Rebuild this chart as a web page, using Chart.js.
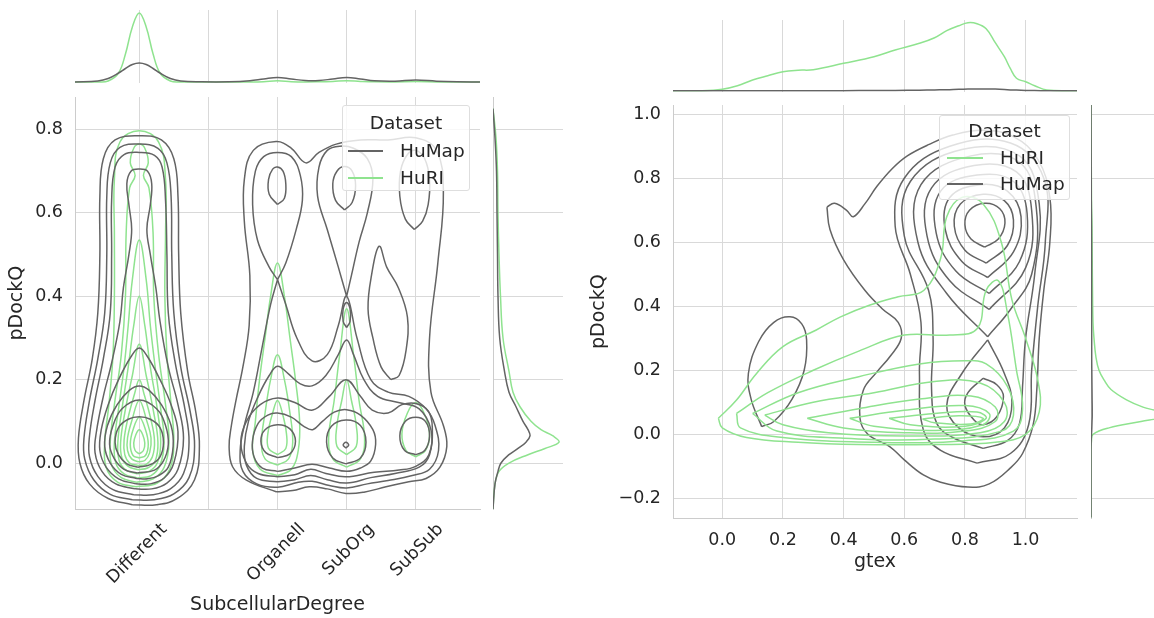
<!DOCTYPE html>
<html lang="en">
<head>
<meta charset="UTF-8">
<title>pDockQ joint KDE</title>
<script src="https://cdn.jsdelivr.net/npm/chart.js"></script>
<style>
    body { margin: 0; background: #fff; }
    #fig { position: relative; width: 1154px; height: 618px; overflow: hidden; font-family: 'DejaVu Sans', sans-serif; color: #262626; }
    #fig canvas { position: absolute; }
    .legend { position: absolute; background: rgba(255,255,255,0.8); border: 1px solid #dedede; border-radius: 3px; box-sizing: border-box; }
    .legend div { position: absolute; height: 22px; line-height: 22px; font-size: 18.5px; white-space: nowrap; }
    .legend .ltitle { left: 0; right: 0; text-align: center; }
    .legend span { position: absolute; display: block; height: 2px; }
</style>
</head>
<body>
<div id="fig">
    <canvas id="leftTop" width="487" height="90" style="left:0;top:0"></canvas>
    <canvas id="leftMain" width="487" height="528" style="left:0;top:90px"></canvas>
    <canvas id="leftSide" width="80" height="528" style="left:487px;top:90px"></canvas>
    <canvas id="rightTop" width="504" height="95" style="left:580px;top:0"></canvas>
    <canvas id="rightMain" width="504" height="523" style="left:580px;top:95px"></canvas>
    <canvas id="rightSide" width="70" height="523" style="left:1084px;top:95px"></canvas>

    <div class="legend" style="left:342px;top:105px;width:128px;height:86px">
        <div class="ltitle" style="top:6px">Dataset</div>
        <span style="left:5px;width:35px;top:44px;background:#646464"></span>
        <div style="left:57px;top:34px">HuMap</div>
        <span style="left:5px;width:35px;top:71px;background:#8fe38f"></span>
        <div style="left:57px;top:61px">HuRI</div>
    </div>
    <div class="legend" style="left:939px;top:115px;width:131px;height:85px">
        <div class="ltitle" style="top:4px">Dataset</div>
        <span style="left:7px;width:36px;top:41px;background:#8fe38f"></span>
        <div style="left:60px;top:31px">HuRI</div>
        <span style="left:7px;width:36px;top:67px;background:#646464"></span>
        <div style="left:60px;top:57px">HuMap</div>
    </div>
</div>
<script>
    // ---- axes ----
    const catPositions = [0, 1, 2, 3, 4];
    const catLabels = ['Different', '', 'Organell', 'SubOrg', 'SubSub'];
    const leftYTicks = [0, 0.2, 0.4, 0.6, 0.8];
    const gtexTicks = [0, 0.2, 0.4, 0.6, 0.8, 1.0];
    const rightYTicks = [-0.2, 0, 0.2, 0.4, 0.6, 0.8, 1.0];

    // ---- left panel: KDE contour lines (x = category index, y = pDockQ) ----
    const differentHuMap = [
        [[-0.10,-0.100],[-0.45,-0.085],[-0.72,-0.05],[-0.86,0.0],[-0.88,0.06],[-0.80,0.15],[-0.68,0.25],[-0.60,0.36],[-0.57,0.5],[-0.57,0.64],[-0.52,0.73],[-0.35,0.775],[0.0,0.785],[0.32,0.775],[0.50,0.73],[0.56,0.64],[0.57,0.5],[0.60,0.36],[0.70,0.22],[0.82,0.12],[0.87,0.04],[0.80,-0.04],[0.55,-0.085],[0.25,-0.1],[-0.10,-0.100]],
        [[-0.10,-0.088],[-0.42,-0.075],[-0.66,-0.04],[-0.79,0.01],[-0.80,0.06],[-0.72,0.15],[-0.60,0.25],[-0.50,0.36],[-0.47,0.5],[-0.47,0.64],[-0.42,0.72],[-0.28,0.757],[0.0,0.765],[0.27,0.755],[0.40,0.72],[0.46,0.64],[0.47,0.5],[0.50,0.36],[0.60,0.23],[0.74,0.12],[0.80,0.04],[0.72,-0.035],[0.50,-0.074],[0.22,-0.088],[-0.10,-0.088]],
        [[-0.08,-0.076],[-0.38,-0.064],[-0.60,-0.032],[-0.72,0.015],[-0.72,0.065],[-0.64,0.15],[-0.52,0.25],[-0.42,0.36],[-0.40,0.5],[-0.40,0.63],[-0.35,0.71],[-0.22,0.74],[0.0,0.745],[0.22,0.738],[0.33,0.71],[0.38,0.63],[0.40,0.5],[0.42,0.36],[0.52,0.24],[0.66,0.13],[0.72,0.05],[0.64,-0.025],[0.45,-0.062],[0.2,-0.076],[-0.08,-0.076]],
        [[-0.06,-0.062],[-0.34,-0.05],[-0.54,-0.02],[-0.64,0.025],[-0.62,0.075],[-0.52,0.16],[-0.40,0.24],[-0.28,0.34],[-0.23,0.42],[-0.15,0.5],[-0.11,0.56],[-0.15,0.62],[-0.18,0.67],[-0.12,0.70],[0.0,0.705],[0.12,0.70],[0.18,0.67],[0.16,0.62],[0.11,0.56],[0.16,0.5],[0.24,0.42],[0.30,0.34],[0.42,0.23],[0.56,0.14],[0.64,0.06],[0.56,-0.015],[0.40,-0.048],[0.18,-0.062],[-0.06,-0.062]],
        [[-0.05,-0.05],[-0.30,-0.038],[-0.48,-0.01],[-0.57,0.03],[-0.55,0.08],[-0.45,0.14],[-0.30,0.2],[-0.12,0.255],[0.0,0.276],[0.12,0.255],[0.30,0.2],[0.46,0.14],[0.56,0.075],[0.50,0.0],[0.36,-0.036],[0.16,-0.05],[-0.05,-0.05]],
        [[-0.04,-0.037],[-0.26,-0.027],[-0.42,0.0],[-0.50,0.04],[-0.46,0.09],[-0.32,0.14],[-0.14,0.175],[0.0,0.185],[0.14,0.175],[0.32,0.14],[0.46,0.09],[0.49,0.04],[0.42,-0.01],[0.28,-0.03],[0.12,-0.038],[-0.04,-0.037]],
        [[-0.03,-0.024],[-0.22,-0.015],[-0.36,0.01],[-0.43,0.045],[-0.38,0.09],[-0.25,0.13],[0.0,0.151],[0.25,0.13],[0.38,0.09],[0.42,0.045],[0.35,0.005],[0.22,-0.017],[-0.03,-0.024]],
        [[-0.02,-0.01],[-0.18,-0.002],[-0.30,0.02],[-0.35,0.05],[-0.30,0.085],[-0.16,0.105],[0.0,0.111],[0.16,0.105],[0.30,0.085],[0.35,0.05],[0.30,0.015],[0.16,-0.004],[-0.02,-0.01]]
    ];
    const differentHuRI = [
        [[-0.05,-0.057],[-0.32,-0.045],[-0.48,-0.01],[-0.50,0.05],[-0.44,0.14],[-0.38,0.26],[-0.36,0.4],[-0.36,0.55],[-0.36,0.68],[-0.28,0.77],[0.0,0.797],[0.28,0.77],[0.38,0.68],[0.38,0.55],[0.37,0.4],[0.40,0.26],[0.46,0.14],[0.50,0.05],[0.44,-0.015],[0.26,-0.048],[-0.05,-0.057]],
        [[-0.04,-0.046],[-0.26,-0.035],[-0.40,-0.005],[-0.42,0.05],[-0.36,0.14],[-0.26,0.26],[-0.20,0.4],[-0.19,0.55],[-0.14,0.66],[-0.06,0.69],[-0.13,0.72],[-0.08,0.755],[0.0,0.765],[0.08,0.755],[0.13,0.72],[0.06,0.69],[0.14,0.66],[0.20,0.55],[0.21,0.4],[0.28,0.26],[0.38,0.14],[0.43,0.05],[0.36,-0.01],[0.2,-0.038],[-0.04,-0.046]],
        [[-0.03,-0.036],[-0.22,-0.026],[-0.34,0.0],[-0.36,0.05],[-0.30,0.13],[-0.22,0.23],[-0.16,0.33],[-0.10,0.44],[0.0,0.535],[0.10,0.44],[0.16,0.33],[0.23,0.23],[0.31,0.13],[0.36,0.05],[0.30,-0.005],[0.17,-0.03],[-0.03,-0.036]],
        [[-0.03,-0.026],[-0.19,-0.017],[-0.29,0.005],[-0.31,0.05],[-0.25,0.13],[-0.16,0.23],[-0.08,0.33],[0.0,0.40],[0.08,0.33],[0.16,0.23],[0.26,0.13],[0.31,0.05],[0.26,0.0],[0.14,-0.02],[-0.03,-0.026]],
        [[-0.02,-0.016],[-0.16,-0.008],[-0.25,0.012],[-0.27,0.05],[-0.21,0.12],[-0.10,0.21],[0.0,0.285],[0.10,0.21],[0.21,0.12],[0.27,0.05],[0.23,0.005],[0.12,-0.012],[-0.02,-0.016]],
        [[-0.02,-0.006],[-0.14,0.0],[-0.21,0.02],[-0.22,0.055],[-0.16,0.11],[-0.07,0.165],[0.0,0.2],[0.07,0.165],[0.16,0.11],[0.22,0.055],[0.19,0.015],[0.1,-0.003],[-0.02,-0.006]],
        [[-0.01,0.003],[-0.11,0.01],[-0.17,0.03],[-0.17,0.06],[-0.11,0.1],[0.0,0.15],[0.11,0.1],[0.17,0.06],[0.15,0.025],[0.08,0.006],[-0.01,0.003]],
        [[0.0,0.012],[-0.09,0.018],[-0.13,0.045],[-0.09,0.08],[0.0,0.11],[0.09,0.08],[0.13,0.045],[0.09,0.018],[0.0,0.012]],
        [[0.0,0.022],[-0.06,0.03],[-0.08,0.048],[-0.05,0.068],[0.0,0.08],[0.05,0.068],[0.08,0.048],[0.06,0.03],[0.0,0.022]]
    ];
    const compartmentHuMap = [
        [[1.98,-0.069],[1.55,-0.041],[1.35,-0.009],[1.30,0.039],[1.33,0.087],[1.40,0.151],[1.50,0.231],[1.59,0.33],[1.60,0.45],[1.52,0.58],[1.52,0.68],[1.65,0.75],[1.98,0.771],[2.20,0.755],[2.41,0.72],[2.60,0.745],[2.85,0.765],[3.2,0.775],[3.6,0.775],[4.0,0.78],[4.3,0.75],[4.40,0.65],[4.32,0.48],[4.20,0.3],[4.22,0.17],[4.40,0.09],[4.45,0.04],[4.35,-0.01],[4.15,-0.037],[3.9,-0.045],[3.57,-0.057],[3.25,-0.07],[2.99,-0.073],[2.72,-0.062],[2.46,-0.057],[2.22,-0.066],[1.98,-0.069]],
        [[2.0,0.44],[1.88,0.47],[1.71,0.535],[1.64,0.62],[1.68,0.70],[1.80,0.735],[2.0,0.745],[2.2,0.735],[2.33,0.69],[2.36,0.63],[2.27,0.56],[2.12,0.48],[2.0,0.44]],
        [[2.0,0.62],[1.88,0.645],[1.87,0.68],[1.93,0.705],[2.0,0.71],[2.08,0.7],[2.12,0.67],[2.1,0.635],[2.0,0.62]],
        [[3.0,0.40],[2.88,0.47],[2.72,0.56],[2.58,0.64],[2.60,0.71],[2.72,0.75],[2.9,0.76],[3.1,0.755],[3.3,0.73],[3.38,0.68],[3.3,0.6],[3.18,0.53],[3.07,0.45],[3.0,0.40]],
        [[2.97,0.607],[2.84,0.63],[2.8,0.67],[2.86,0.70],[2.97,0.711],[3.08,0.70],[3.13,0.665],[3.08,0.625],[2.97,0.607]],
        [[3.0,0.325],[2.95,0.34],[2.95,0.37],[3.0,0.385],[3.05,0.37],[3.05,0.34],[3.0,0.325]],
        [[3.98,0.56],[3.85,0.585],[3.77,0.64],[3.78,0.70],[3.88,0.74],[4.0,0.75],[4.13,0.73],[4.2,0.68],[4.18,0.62],[4.1,0.58],[3.98,0.56]],
        [[3.64,0.2],[3.5,0.23],[3.38,0.3],[3.31,0.37],[3.36,0.45],[3.47,0.52],[3.58,0.47],[3.75,0.42],[3.88,0.35],[3.86,0.27],[3.76,0.21],[3.64,0.2]],
        [[2.0,0.44],[1.9,0.38],[1.78,0.28],[1.65,0.17],[1.52,0.09],[1.46,0.03],[1.5,-0.02],[1.7,-0.05],[2.0,-0.058],[2.3,-0.046],[2.5,-0.044],[2.75,-0.054],[3.0,-0.06],[3.3,-0.05],[3.6,-0.042],[3.95,-0.03],[4.2,-0.015],[4.33,0.03],[4.28,0.09],[4.15,0.13],[3.9,0.16],[3.6,0.17],[3.35,0.2],[3.15,0.3],[3.0,0.40],[2.88,0.33],[2.72,0.26],[2.5,0.245],[2.28,0.3],[2.12,0.38],[2.0,0.44]],
        [[2.0,-0.045],[1.7,-0.037],[1.55,-0.005],[1.52,0.04],[1.58,0.1],[1.72,0.16],[1.88,0.21],[2.0,0.232],[2.15,0.215],[2.33,0.19],[2.5,0.185],[2.7,0.21],[2.88,0.26],[3.0,0.295],[3.1,0.26],[3.25,0.2],[3.45,0.16],[3.75,0.145],[4.05,0.13],[4.22,0.08],[4.2,0.02],[4.05,-0.01],[3.7,-0.025],[3.35,-0.035],[3.0,-0.048],[2.72,-0.04],[2.48,-0.03],[2.25,-0.04],[2.0,-0.045]],
        [[2.0,-0.033],[1.72,-0.025],[1.55,0.0],[1.47,0.05],[1.55,0.1],[1.75,0.14],[2.0,0.156],[2.25,0.145],[2.51,0.127],[2.75,0.16],[2.99,0.2],[3.2,0.16],[3.37,0.127],[3.6,0.12],[3.8,0.14],[4.0,0.143],[4.18,0.125],[4.24,0.085],[4.19,0.02],[4.0,-0.008],[3.76,-0.017],[3.4,-0.022],[2.99,-0.033],[2.7,-0.025],[2.48,-0.015],[2.25,-0.028],[2.0,-0.033]],
        [[2.0,-0.02],[1.78,-0.012],[1.66,0.015],[1.64,0.055],[1.72,0.095],[1.86,0.115],[2.0,0.12],[2.2,0.11],[2.38,0.088],[2.51,0.08],[2.65,0.1],[2.82,0.122],[3.0,0.128],[3.2,0.115],[3.38,0.08],[3.42,0.045],[3.35,0.005],[3.2,-0.012],[3.0,-0.02],[2.75,-0.012],[2.5,-0.003],[2.25,-0.012],[2.0,-0.02]],
        [[4.0,0.02],[3.84,0.03],[3.77,0.065],[3.85,0.1],[4.0,0.11],[4.14,0.1],[4.2,0.065],[4.13,0.03],[4.0,0.02]],
        [[2.0,0.013],[1.83,0.025],[1.76,0.052],[1.82,0.08],[2.0,0.092],[2.18,0.082],[2.26,0.052],[2.18,0.022],[2.0,0.013]],
        [[2.99,-0.002],[2.8,0.012],[2.71,0.05],[2.78,0.088],[2.99,0.103],[3.2,0.09],[3.28,0.05],[3.2,0.012],[2.99,-0.002]],
        [[2.99,0.036],[2.95,0.043],[2.99,0.05],[3.03,0.043],[2.99,0.036]]
    ];
    const compartmentHuRI = [
        [[2.0,-0.03],[1.75,-0.015],[1.64,0.03],[1.68,0.1],[1.74,0.2],[1.82,0.3],[1.9,0.4],[2.0,0.48],[2.1,0.4],[2.18,0.3],[2.26,0.2],[2.32,0.1],[2.3,0.03],[2.2,-0.015],[2.0,-0.03]],
        [[2.0,-0.005],[1.82,0.01],[1.77,0.05],[1.82,0.12],[1.9,0.2],[2.0,0.26],[2.1,0.2],[2.18,0.12],[2.22,0.05],[2.16,0.01],[2.0,-0.005]],
        [[2.0,0.02],[1.87,0.035],[1.86,0.07],[1.93,0.12],[2.0,0.15],[2.07,0.12],[2.13,0.07],[2.12,0.035],[2.0,0.02]],
        [[3.0,-0.01],[2.8,0.01],[2.74,0.06],[2.82,0.15],[2.9,0.26],[3.0,0.37],[3.1,0.26],[3.18,0.15],[3.26,0.06],[3.2,0.01],[3.0,-0.01]],
        [[3.0,0.02],[2.86,0.04],[2.86,0.09],[2.93,0.15],[3.0,0.2],[3.07,0.15],[3.14,0.09],[3.14,0.04],[3.0,0.02]],
        [[4.0,0.015],[3.86,0.03],[3.8,0.07],[3.88,0.12],[4.0,0.145],[4.12,0.12],[4.2,0.07],[4.14,0.03],[4.0,0.015]]
    ];

    // left panel marginals (density heights, px-like units)
    const leftTopX = [-0.93,-0.6,-0.45,-0.3,-0.2,-0.1,0,0.1,0.2,0.3,0.45,0.6,0.9,1.3,1.6,1.8,2.0,2.2,2.4,2.6,2.8,3.0,3.2,3.4,3.7,4.0,4.3,4.6,4.93];
    const leftTopHuRI = [0,0,1,9,28,55,69,55,28,9,1,0,0,0,0,0.3,1.2,0.3,0,0.2,0.6,1.2,0.6,0.2,0.1,0.4,0.1,0,0];
    const leftTopHuMap = [0,1,3.5,9,13.5,17.5,19,17.5,13.5,9,3.5,1,0.2,0.2,1.2,3,4.5,3,1.5,1.5,3,4.5,3,1.2,0.8,2,0.8,0.2,0];
    const leftSideY = [-0.11,-0.05,-0.02,0.0,0.02,0.035,0.05,0.065,0.08,0.1,0.135,0.17,0.22,0.3,0.4,0.5,0.6,0.7,0.78,0.85];
    const leftSideHuMap = [0,2,5,8,16,25,33,37,35,30,23,16,11.5,6.7,5,4.5,4,3.5,2,0];
    const leftSideHuRI = [0,2,6,16,35,52,66,60,48,38,27,20,16,10,7.5,6,5,4.5,3,0];

    // ---- right panel: KDE contour lines (x = gtex, y = pDockQ) ----
    const gtexHuMap = [
        [[0.345,0.71],[0.37,0.722],[0.41,0.70],[0.432,0.68],[0.47,0.72],[0.51,0.775],[0.56,0.83],[0.61,0.87],[0.68,0.905],[0.76,0.935],[0.86,0.95],[0.96,0.93],[1.04,0.86],[1.08,0.74],[1.08,0.6],[1.06,0.45],[1.045,0.3],[1.037,0.14],[1.025,0.03],[0.99,-0.06],[0.95,-0.105],[0.88,-0.155],[0.81,-0.165],[0.72,-0.15],[0.663,-0.127],[0.6,-0.08],[0.553,-0.039],[0.48,0.0],[0.454,0.05],[0.465,0.138],[0.51,0.195],[0.553,0.243],[0.59,0.3],[0.58,0.35],[0.53,0.39],[0.47,0.45],[0.4,0.545],[0.355,0.64],[0.345,0.71]],
        [[0.84,-0.09],[0.72,-0.05],[0.663,0.013],[0.65,0.19],[0.655,0.35],[0.62,0.5],[0.57,0.65],[0.6,0.8],[0.75,0.9],[0.95,0.91],[1.06,0.8],[1.065,0.6],[1.04,0.4],[1.02,0.2],[1.01,0.03],[0.95,-0.06],[0.84,-0.09]],
        [[0.86,-0.044],[0.76,-0.01],[0.707,0.034],[0.69,0.14],[0.695,0.3],[0.68,0.45],[0.60,0.62],[0.62,0.79],[0.79,0.89],[0.98,0.87],[1.045,0.72],[1.03,0.5],[1.0,0.3],[0.99,0.15],[0.98,0.034],[0.94,-0.02],[0.86,-0.044]],
        [[0.875,0.305],[0.74,0.44],[0.645,0.6],[0.655,0.78],[0.82,0.87],[0.98,0.85],[1.035,0.71],[1.02,0.5],[0.95,0.39],[0.875,0.305]],
        [[0.88,0.39],[0.75,0.48],[0.675,0.62],[0.69,0.77],[0.83,0.84],[0.97,0.82],[1.02,0.7],[1.0,0.52],[0.88,0.39]],
        [[0.88,0.44],[0.77,0.51],[0.705,0.63],[0.72,0.76],[0.84,0.81],[0.96,0.79],[1.005,0.69],[0.98,0.54],[0.88,0.44]],
        [[0.875,0.49],[0.79,0.54],[0.735,0.64],[0.75,0.74],[0.85,0.78],[0.94,0.76],[0.985,0.68],[0.96,0.57],[0.875,0.49]],
        [[0.87,0.535],[0.80,0.575],[0.765,0.65],[0.785,0.72],[0.86,0.75],[0.93,0.73],[0.96,0.67],[0.94,0.59],[0.87,0.535]],
        [[0.865,0.585],[0.82,0.61],[0.80,0.655],[0.815,0.70],[0.865,0.722],[0.915,0.705],[0.932,0.66],[0.91,0.61],[0.865,0.585]],
        [[0.875,0.295],[0.79,0.19],[0.74,0.09],[0.78,0.02],[0.86,-0.008],[0.93,0.02],[0.955,0.1],[0.93,0.19],[0.875,0.295]],
        [[0.86,0.175],[0.81,0.13],[0.8,0.09],[0.83,0.045],[0.86,0.03],[0.905,0.055],[0.927,0.118],[0.905,0.155],[0.86,0.175]],
        [[0.13,0.024],[0.095,0.11],[0.086,0.19],[0.12,0.29],[0.17,0.35],[0.223,0.367],[0.262,0.345],[0.278,0.295],[0.27,0.2],[0.23,0.11],[0.17,0.04],[0.13,0.024]]
    ];
    const gtexHuRI = [
        [[-0.013,0.05],[0.047,0.107],[0.113,0.19],[0.2,0.274],[0.31,0.326],[0.39,0.367],[0.487,0.404],[0.58,0.43],[0.665,0.45],[0.72,0.55],[0.74,0.68],[0.79,0.74],[0.86,0.72],[0.92,0.6],[0.955,0.42],[1.0,0.3],[1.04,0.17],[1.045,0.07],[1.0,0.0],[0.9,-0.025],[0.7,-0.032],[0.45,-0.032],[0.25,-0.025],[0.08,-0.01],[0.0,0.02],[-0.013,0.05]],
        [[0.047,0.065],[0.15,0.13],[0.3,0.2],[0.45,0.26],[0.6,0.31],[0.75,0.31],[0.84,0.33],[0.87,0.45],[0.91,0.48],[0.94,0.38],[0.97,0.2],[0.99,0.08],[0.96,0.01],[0.8,-0.02],[0.5,-0.025],[0.2,-0.01],[0.06,0.02],[0.047,0.065]],
        [[0.1,0.065],[0.25,0.13],[0.45,0.18],[0.65,0.22],[0.8,0.23],[0.87,0.22],[0.94,0.15],[0.96,0.06],[0.92,0.01],[0.7,-0.015],[0.4,-0.012],[0.18,0.01],[0.1,0.065]],
        [[0.14,0.06],[0.3,0.1],[0.5,0.13],[0.7,0.165],[0.85,0.16],[0.93,0.1],[0.93,0.04],[0.85,0.005],[0.6,-0.005],[0.35,0.005],[0.2,0.03],[0.14,0.06]],
        [[0.28,0.05],[0.45,0.08],[0.65,0.11],[0.82,0.12],[0.9,0.085],[0.9,0.04],[0.8,0.01],[0.6,0.005],[0.4,0.02],[0.28,0.05]],
        [[0.42,0.05],[0.6,0.075],[0.8,0.09],[0.88,0.065],[0.86,0.03],[0.7,0.012],[0.5,0.025],[0.42,0.05]],
        [[0.55,0.05],[0.7,0.065],[0.84,0.07],[0.87,0.05],[0.8,0.025],[0.62,0.03],[0.55,0.05]],
        [[0.66,0.048],[0.78,0.058],[0.86,0.05],[0.82,0.032],[0.7,0.036],[0.66,0.048]]
    ];

    // right panel marginals
    const rightTopX = [-0.163,-0.07,0.0,0.05,0.1,0.15,0.2,0.25,0.3,0.4,0.5,0.57,0.65,0.7,0.74,0.78,0.81,0.84,0.87,0.9,0.93,0.95,0.97,1.0,1.03,1.07,1.17];
    const rightTopHuRI = [0,0,1.5,5,10.7,15,19,20.5,21,27.4,34,40.7,47.4,53,60,65,68,67,62,48,34,22,12.4,9,5,0.7,0];
    const rightTopHuMap = [0,0,0,0,0,0,0,0,0,0,0.2,0.3,0.5,0.8,1,1.4,1.6,1.8,1.8,1.6,1.2,0.8,0.6,0.3,0.1,0,0];
    const rightSideY = [-0.26,-0.05,-0.02,0.0,0.02,0.04,0.055,0.07,0.085,0.107,0.14,0.17,0.2,0.24,0.3,0.35,0.45,0.55,0.65,0.73,1.03];
    const rightSideHuRI = [0,0,0.5,2,18,50,72,68,52,36,20,13,8,5,3,2,1.5,1.2,1,0.5,0];
    const rightSideHuMap = [0,0,0.2,0.5,0.8,1,1.2,1.2,1.2,1.1,1,0.9,0.8,0.7,0.7,0.6,0.6,0.6,0.5,0.3,0];

    // ---- styling ----
    Chart.defaults.font.family = "'DejaVu Sans', sans-serif";
    Chart.defaults.color = '#262626';
    const GRID = '#d9d9d9';
    const SPINE = '#cccccc';
    const GRAY = '#646464';
    const GREEN = '#8fe38f';
    const tickFont = { size: 17.5 };
    const titleFont = { size: 19 };

    function loops(list, color) {
        return list.map(c => ({
            data: c.map(p => ({ x: p[0], y: p[1] })),
            showLine: true, borderColor: color, borderWidth: 1.5,
            pointRadius: 0, tension: 0.4, fill: false
        }));
    }
    function curve(xs, ys, color, horizontal) {
        return {
            data: xs.map((v, i) => horizontal ? { x: v, y: ys[i] } : { x: ys[i], y: v }),
            showLine: true, borderColor: color, borderWidth: 1.5,
            pointRadius: 0, tension: 0.4, fill: false
        };
    }
    function fixSize(size) {
        return s => {
            if (s.isHorizontal()) s.height = size; else s.width = size;
            s.paddingLeft = s.paddingRight = s.paddingTop = s.paddingBottom = 0;
        };
    }
    function setTicks(values) {
        return s => { s.ticks = values.map(v => ({ value: v })); };
    }
    const hidden = { display: false };
    const base = {
        responsive: false, animation: false, events: [],
        plugins: { legend: hidden, tooltip: { enabled: false } }
    };
    function make(id, datasets, scales, padding) {
        new Chart(document.getElementById(id), {
            type: 'scatter',
            data: { datasets },
            options: Object.assign({}, base, { layout: { padding }, scales })
        });
    }
    const fmt = v => (v < 0 ? '\u2212' : '') + Math.abs(v).toFixed(1);

    // left main
    make('leftMain',
        loops(differentHuMap, GRAY).concat(loops(compartmentHuMap, GRAY),
            loops(differentHuRI, GREEN), loops(compartmentHuRI, GREEN)),
        {
            x: {
                type: 'linear', min: -0.93, max: 4.93,
                afterBuildTicks: setTicks(catPositions), afterFit: fixSize(108.7),
                ticks: { callback: (v, i) => catLabels[i], minRotation: 45, maxRotation: 45, autoSkip: false, padding: 10, labelOffset: 25, font: tickFont },
                grid: { color: GRID, drawTicks: false }, border: { color: SPINE },
                title: { display: true, text: 'SubcellularDegree', font: titleFont, padding: { top: 0, bottom: 2 } }
            },
            y: {
                type: 'linear', min: -0.111, max: 0.878,
                afterBuildTicks: setTicks(leftYTicks), afterFit: fixSize(75),
                ticks: { callback: fmt, padding: 12, font: tickFont },
                grid: { color: GRID, drawTicks: false }, border: { color: SPINE },
                title: { display: true, text: 'pDockQ', font: titleFont, padding: { top: 6, bottom: 0 } }
            }
        },
        { left: 0, top: 7, right: 7, bottom: 0 });

    // left top marginal
    make('leftTop',
        [curve(leftTopX, leftTopHuMap, GRAY, true), curve(leftTopX, leftTopHuRI, GREEN, true)],
        {
            x: {
                type: 'linear', min: -0.93, max: 4.93,
                afterBuildTicks: setTicks(catPositions), afterFit: fixSize(0),
                ticks: hidden, grid: { color: GRID, drawTicks: false }, border: hidden
            },
            y: { type: 'linear', min: -1, max: 72, display: false }
        },
        { left: 75, top: 10, right: 7, bottom: 7 });

    // left side marginal
    make('leftSide',
        [curve(leftSideY, leftSideHuMap, GRAY, false), curve(leftSideY, leftSideHuRI, GREEN, false)],
        {
            x: { type: 'linear', min: 0, max: 70, display: false },
            y: {
                type: 'linear', min: -0.111, max: 0.878,
                afterBuildTicks: setTicks(leftYTicks), afterFit: fixSize(0),
                ticks: hidden, grid: { color: GRID, drawTicks: false }, border: { color: SPINE }
            }
        },
        { left: 6, top: 7, right: 4, bottom: 108.7 });

    // right main
    make('rightMain',
        loops(gtexHuRI, GREEN).concat(loops(gtexHuMap, GRAY)),
        {
            x: {
                type: 'linear', min: -0.1625, max: 1.1695,
                afterBuildTicks: setTicks(gtexTicks), afterFit: fixSize(99.7),
                ticks: { callback: fmt, padding: 12, maxRotation: 0, font: tickFont },
                grid: { color: GRID, drawTicks: false }, border: { color: SPINE },
                title: { display: true, text: 'gtex', font: titleFont, padding: { top: 0, bottom: 44.6 } }
            },
            y: {
                type: 'linear', min: -0.2625, max: 1.029,
                afterBuildTicks: setTicks(rightYTicks), afterFit: fixSize(93),
                ticks: { callback: fmt, padding: 12, font: tickFont },
                grid: { color: GRID, drawTicks: false }, border: { color: SPINE },
                title: { display: true, text: 'pDockQ', font: titleFont, padding: { top: 7.6, bottom: 0 } }
            }
        },
        { left: 0, top: 10, right: 7, bottom: 0 });

    // right top marginal
    make('rightTop',
        [curve(rightTopX, rightTopHuMap, GRAY, true), curve(rightTopX, rightTopHuRI, GREEN, true)],
        {
            x: {
                type: 'linear', min: -0.1625, max: 1.1695,
                afterBuildTicks: setTicks(gtexTicks), afterFit: fixSize(0),
                ticks: hidden, grid: { color: GRID, drawTicks: false }, border: hidden
            },
            y: { type: 'linear', min: -1, max: 70.7, display: false }
        },
        { left: 93, top: 20, right: 7, bottom: 3.3 });

    // right side marginal
    make('rightSide',
        [curve(rightSideY, rightSideHuMap, GRAY, false), curve(rightSideY, rightSideHuRI, GREEN, false)],
        {
            x: { type: 'linear', min: 0, max: 63, display: false },
            y: {
                type: 'linear', min: -0.2625, max: 1.029,
                afterBuildTicks: setTicks(rightYTicks), afterFit: fixSize(0),
                ticks: hidden, grid: { color: GRID, drawTicks: false }, border: { color: SPINE }
            }
        },
        { left: 7, top: 10, right: 0, bottom: 99.7 });
</script>
</body>
</html>
